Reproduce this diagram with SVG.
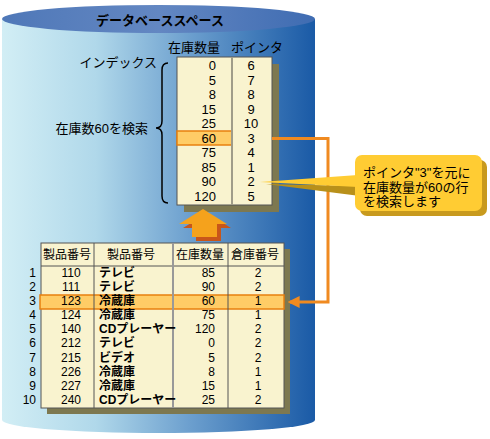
<svg xmlns="http://www.w3.org/2000/svg" width="490" height="439" viewBox="0 0 490 439">
<defs>
<linearGradient id="body" x1="0" y1="0" x2="1" y2="0">
<stop offset="0" stop-color="#d2eef5"/>
<stop offset="0.3" stop-color="#b0d8ea"/>
<stop offset="0.6" stop-color="#6c9fce"/>
<stop offset="1" stop-color="#1a5aa6"/>
</linearGradient>
<linearGradient id="top" x1="0" y1="0" x2="1" y2="0">
<stop offset="0" stop-color="#4f78b8"/>
<stop offset="0.5" stop-color="#6387c2"/>
<stop offset="1" stop-color="#3f6cb2"/>
</linearGradient>
<marker id="arr" viewBox="0 0 10 10" refX="8" refY="5" markerWidth="4" markerHeight="4" orient="auto">
<path d="M0,0 L10,5 L0,10 Z" fill="#f08a20"/>
</marker>
<style>
text{font-family:"Liberation Sans","Noto Sans CJK JP",sans-serif;font-size:13px;fill:#000}
.t text{font-size:12px}
.b{font-weight:bold}
.c{text-anchor:middle}
.r{text-anchor:end}
.tbl{fill:#f9f3cf;stroke:#555;stroke-width:1}
.shd{fill:#7d7850}
.hl{fill:#ffcc66;stroke:#e8800f;stroke-width:1.5}
.ln{stroke:#555;stroke-width:1}
</style>
</defs>

<g id="cylinder">
<path d="M2,19 L2,420 A156.5,13 0 0 0 315,420 L315,19 Z" fill="url(#body)"/>
<ellipse cx="158.5" cy="19" rx="156.5" ry="14" fill="url(#top)"/>
<text x="160" y="25" class="c b" font-size="14">データベーススペース</text>
</g>

<g id="index">
<text x="194" y="52" class="c">在庫数量</text>
<text x="257" y="52" class="c">ポインタ</text>
<text x="157" y="67" class="r">インデックス</text>
<rect x="184" y="64" width="95" height="148" class="shd"/>
<rect x="177" y="57" width="95" height="148" class="tbl"/>
<rect x="177" y="131" width="55" height="14" class="hl"/>
<line x1="232" y1="57" x2="232" y2="205" stroke="#a09c88" stroke-width="2"/>
<g class="r">
<text x="216" y="70">0</text><text x="216" y="85">5</text><text x="216" y="99">8</text><text x="216" y="114">15</text><text x="216" y="128">25</text><text x="216" y="143">60</text><text x="216" y="157">75</text><text x="216" y="172">85</text><text x="216" y="186">90</text><text x="216" y="201">120</text>
</g>
<g class="c">
<text x="251" y="70">6</text><text x="251" y="85">7</text><text x="251" y="99">8</text><text x="251" y="114">9</text><text x="251" y="128">10</text><text x="251" y="143">3</text><text x="251" y="157">4</text><text x="251" y="172">1</text><text x="251" y="186">2</text><text x="251" y="201">5</text>
</g>
</g>

<g id="brace">
<path d="M168,63 Q162,63 162,70 L162,121 Q162,128 156,128 Q162,128 162,135 L162,196 Q162,203 168,203" fill="none" stroke="#000" stroke-width="1.5"/>
<text x="148" y="133" class="r">在庫数60を検索</text>
</g>

<g id="up-arrow">
<path d="M207,213 L231,228 L221,228 L221,241 L196,241 L196,228 L183,228 Z" fill="#c8561a"/>
<path d="M203,209 L227,224 L217,224 L217,237 L192,237 L192,224 L179,224 Z" fill="#f5a21c"/>
</g>

<g id="product-table" class="t">
<rect x="47" y="249" width="243" height="165" class="shd"/>
<rect x="41" y="243" width="243" height="165" class="tbl"/>
<rect x="40" y="295" width="244" height="14" class="hl"/>
<line x1="41" y1="266" x2="284" y2="266" class="ln"/>
<line x1="94" y1="243" x2="94" y2="408" class="ln"/>
<line x1="173" y1="243" x2="173" y2="408" stroke="#999" stroke-width="2"/>
<line x1="228" y1="243" x2="228" y2="408" class="ln"/>
<text x="67" y="259" class="c">製品番号</text>
<text x="131" y="259" class="c">製品番号</text>
<text x="200" y="259" class="c">在庫数量</text>
<text x="255" y="259" class="c">倉庫番号</text>
<g class="r">
<text x="36" y="277">1</text><text x="36" y="291">2</text><text x="36" y="305">3</text><text x="36" y="319">4</text><text x="36" y="333">5</text><text x="36" y="347">6</text><text x="36" y="362">7</text><text x="36" y="376">8</text><text x="36" y="390">9</text><text x="36" y="404">10</text>
</g>
<g class="c">
<text x="71" y="277">110</text><text x="71" y="291">111</text><text x="71" y="305">123</text><text x="71" y="319">124</text><text x="71" y="333">140</text><text x="71" y="347">212</text><text x="71" y="362">215</text><text x="71" y="376">226</text><text x="71" y="390">227</text><text x="71" y="404">240</text>
</g>
<g class="b">
<text x="99" y="277">テレビ</text><text x="99" y="291">テレビ</text><text x="99" y="305">冷蔵庫</text><text x="99" y="319">冷蔵庫</text><text x="99" y="333">CDプレーヤー</text><text x="99" y="347">テレビ</text><text x="99" y="362">ビデオ</text><text x="99" y="376">冷蔵庫</text><text x="99" y="390">冷蔵庫</text><text x="99" y="404">CDプレーヤー</text>
</g>
<g class="r">
<text x="215" y="277">85</text><text x="215" y="291">90</text><text x="215" y="305">60</text><text x="215" y="319">75</text><text x="215" y="333">120</text><text x="215" y="347">0</text><text x="215" y="362">5</text><text x="215" y="376">8</text><text x="215" y="390">15</text><text x="215" y="404">25</text>
</g>
<g class="c">
<text x="258" y="277">2</text><text x="258" y="291">2</text><text x="258" y="305">1</text><text x="258" y="319">1</text><text x="258" y="333">2</text><text x="258" y="347">2</text><text x="258" y="362">2</text><text x="258" y="376">1</text><text x="258" y="390">1</text><text x="258" y="404">2</text>
</g>
</g>

<g id="connectors">
<polyline points="272,138.5 328,138.5 328,302 290,302" fill="none" stroke="#f08a20" stroke-width="3" marker-end="url(#arr)"/>
</g>

<g id="callout">
<path d="M360,186 L266,184 L360,196 Z" fill="#b8901a"/>
<rect x="360" y="160" width="127" height="56" rx="7" fill="#c89a1e"/>
<path d="M358,175 L260,182 L358,187 Z" fill="#ffcc33"/>
<rect x="355" y="155" width="127" height="56" rx="7" fill="#ffcc33"/>
<text x="363" y="177">ポインタ"3"を元に</text>
<text x="363" y="192">在庫数量が60の行</text>
<text x="363" y="206">を検索します</text>
</g>
</svg>
